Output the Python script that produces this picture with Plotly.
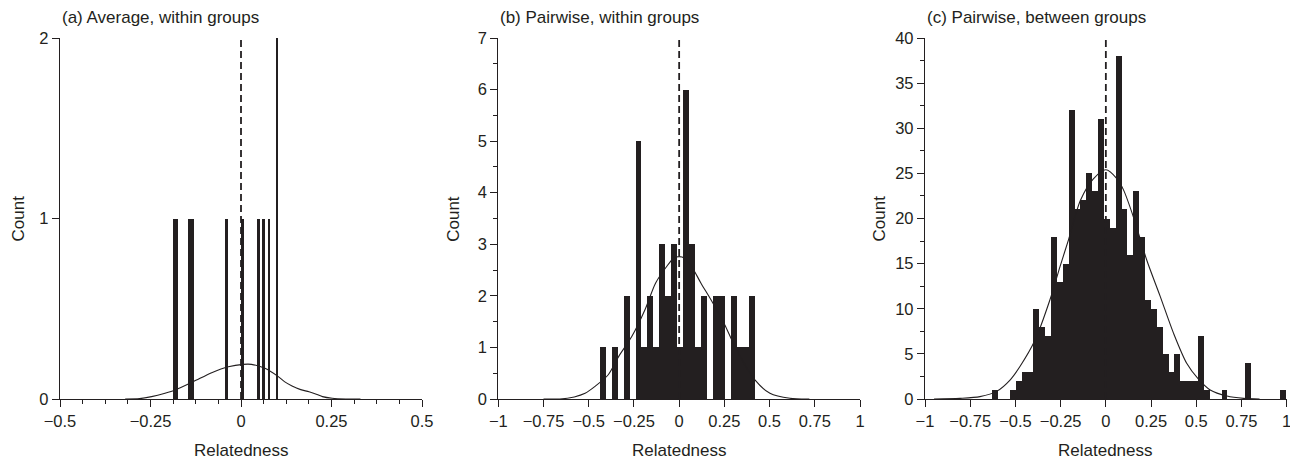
import plotly.graph_objects as go

INK = "#231f20"
FONT = "Liberation Sans, Arial, Helvetica, sans-serif"

# ---------------- data ----------------
titles = ["(a) Average, within groups", "(b) Pairwise, within groups", "(c) Pairwise, between groups"]
x_label = "Relatedness"
y_label = "Count"

# (a) histogram: bins start at a_start, width a_width
a_start = -0.189
a_width = 0.0073
a_counts = [1, 1, 0, 0, 0, 0, 1, 1, 0, 0,
            0, 0, 0, 0, 0, 0, 0, 0, 0, 0,
            1, 0, 0, 0, 0, 0, 1, 0, 0, 0,
            0, 0, 1, 0, 1, 0, 1, 0, 0, 2]
a_curve_x = [-0.32, -0.28, -0.247, -0.21, -0.182, -0.132, -0.081, -0.035, 0.006, 0.029,
             0.066, 0.103, 0.12, 0.141, 0.165, 0.188, 0.21, 0.225, 0.252, 0.29, 0.33]
a_curve_y = [0, 0.002, 0.013, 0.032, 0.05, 0.096, 0.146, 0.179, 0.192, 0.192,
             0.17, 0.124, 0.096, 0.072, 0.052, 0.04, 0.025, 0.013, 0.004, 0.0, 0]

# (b)
b_start = -0.4377
b_width = 0.033
b_counts = [1, 0, 1, 0, 2, 0, 5, 1, 2, 1,
            3, 2, 3, 1, 6, 3, 1, 2, 0, 2,
            2, 0, 2, 1, 1, 2]
b_curve_x = [-0.75, -0.66, -0.58, -0.52, -0.467, -0.392, -0.33, -0.262, -0.189, -0.13,
             -0.069, -0.03, 0.0, 0.03, 0.069, 0.12, 0.18, 0.244, 0.318, 0.419,
             0.502, 0.613, 0.72]
b_curve_y = [0, 0.0, 0.04, 0.11, 0.24, 0.47, 0.85, 1.21, 1.73, 2.25,
             2.57, 2.73, 2.76, 2.73, 2.57, 2.25, 1.9, 1.5, 0.95, 0.37,
             0.11, 0.013, 0]

# (c)
c_start = -0.628
c_width = 0.0325
c_counts = [1, 0, 0, 1, 2, 3, 3, 10, 8, 7,
            18, 13, 15, 32, 21, 22, 25, 23, 31, 20,
            19, 38, 21, 16, 23, 18, 11, 10, 8, 5,
            3, 5, 2, 2, 2, 7, 1, 0, 0, 1,
            0, 0, 0, 4, 0, 0, 0, 0, 0, 1]
c_curve_x = [-0.95, -0.806, -0.696, -0.6, -0.53, -0.475, -0.392, -0.309, -0.253, -0.207,
             -0.141, -0.069, 0.0, 0.062, 0.097, 0.152, 0.226, 0.30, 0.374, 0.447,
             0.512, 0.577, 0.67, 0.762, 0.85]
c_curve_y = [0, 0.07, 0.26, 0.9, 2.1, 3.6, 6.5, 11.0, 14.7, 17.6,
             22.0, 24.4, 25.4, 24.4, 23.2, 20.2, 15.4, 11.4, 7.3, 3.96,
             2.2, 1.0, 0.33, 0.07, 0]

ref_x = 0.0

x_ranges = [[-0.5, 0.5], [-1, 1], [-1, 1]]
y_ranges = [[0, 2], [0, 7], [0, 40]]
x_tickvals = [[-0.5, -0.25, 0, 0.25, 0.5],
              [-1, -0.75, -0.5, -0.25, 0, 0.25, 0.5, 0.75, 1],
              [-1, -0.75, -0.5, -0.25, 0, 0.25, 0.5, 0.75, 1]]
x_ticktext = [["\u22120.5", "\u22120.25", "0", "0.25", "0.5"],
              ["\u22121", "\u22120.75", "\u22120.5", "\u22120.25", "0", "0.25", "0.5", "0.75", "1"],
              ["\u22121", "\u22120.75", "\u22120.5", "\u22120.25", "0", "0.25", "0.5", "0.75", "1"]]
x_minor = [0.0625, None, None]
y_dtick = [1, 1, 5]
y_minor = [None, 0.5, 2.5]

panels = [
    (a_start, a_width, a_counts, a_curve_x, a_curve_y),
    (b_start, b_width, b_counts, b_curve_x, b_curve_y),
    (c_start, c_width, c_counts, c_curve_x, c_curve_y),
]

# ---------------- layout geometry ----------------
# page is shown with an 8px body margin, so the figure is laid out in page pixels minus 8
OFF = 8
PAGE_W, PAGE_H = 1298, 462
W, H = PAGE_W - OFF, PAGE_H - OFF


def fx(p):
    return (p - OFF) / W


def fy(p):
    return 1 - (p - OFF) / H


x_domains = [[fx(60), fx(422)], [fx(498.3), fx(860)], [fx(925), fx(1286.7)]]
y_domain = [fy(399), fy(38)]
count_shift = [-42, -45, -46]

fig = go.Figure()

for i, (start, width, counts, cx, cy) in enumerate(panels):
    xa = "x" if i == 0 else f"x{i+1}"
    ya = "y" if i == 0 else f"y{i+1}"
    centers = [start + (k + 0.5) * width for k in range(len(counts))]
    fig.add_trace(go.Bar(x=centers, y=counts, width=[width] * len(counts),
                         marker=dict(color=INK, line=dict(width=0)),
                         xaxis=xa, yaxis=ya, showlegend=False, hoverinfo="x+y"))
    fig.add_trace(go.Scatter(x=cx, y=cy, mode="lines",
                             line=dict(color=INK, width=1.1, shape="spline", smoothing=0.8),
                             xaxis=xa, yaxis=ya, showlegend=False))
    fig.add_trace(go.Scatter(x=[ref_x, ref_x], y=y_ranges[i], mode="lines",
                             line=dict(color=INK, width=1.8, dash="7px,4px"),
                             xaxis=xa, yaxis=ya, showlegend=False, hoverinfo="skip"))

    xkey = "xaxis" if i == 0 else f"xaxis{i+1}"
    ykey = "yaxis" if i == 0 else f"yaxis{i+1}"
    xax = dict(domain=x_domains[i], range=x_ranges[i], anchor=ya, automargin=False,
               tickmode="array", tickvals=x_tickvals[i], ticktext=x_ticktext[i],
               ticks="outside", ticklen=7, tickwidth=1.2, tickcolor=INK,
               showline=True, linecolor=INK, linewidth=1.3,
               showgrid=False, zeroline=False,
               tickfont=dict(family=FONT, size=16.5, color=INK))
    if x_minor[i]:
        xax["minor"] = dict(tickmode="linear", tick0=x_ranges[i][0], dtick=x_minor[i],
                            ticks="outside", ticklen=4, tickwidth=1.1, tickcolor=INK, showgrid=False)
    yax = dict(domain=y_domain, range=y_ranges[i], anchor=xa, automargin=False,
               tickmode="linear", tick0=0, dtick=y_dtick[i],
               ticks="outside", ticklen=7, tickwidth=1.2, tickcolor=INK,
               showline=True, linecolor=INK, linewidth=1.3,
               showgrid=False, zeroline=False,
               tickfont=dict(family=FONT, size=16.5, color=INK))
    if y_minor[i]:
        yax["minor"] = dict(tickmode="linear", tick0=0, dtick=y_minor[i],
                            ticks="outside", ticklen=4, tickwidth=1.1, tickcolor=INK, showgrid=False)
    fig.layout[xkey] = xax
    fig.layout[ykey] = yax

    # title
    fig.add_annotation(text=titles[i], xref=f"{xa} domain", yref="paper",
                       x=0, y=fy(18), xanchor="left", yanchor="middle", xshift=1,
                       borderpad=0,
                       showarrow=False, font=dict(family=FONT, size=17, color=INK))
    # axis labels
    fig.add_annotation(text=x_label, xref=f"{xa} domain", yref=f"{ya} domain",
                       x=0.5, y=0, yshift=-51, xanchor="center", yanchor="middle",
                       showarrow=False, font=dict(family=FONT, size=17, color=INK))
    fig.add_annotation(text=y_label, xref=f"{xa} domain", yref=f"{ya} domain",
                       x=0, y=0.5, xshift=count_shift[i], textangle=-90,
                       xanchor="center", yanchor="middle", borderpad=0,
                       showarrow=False, font=dict(family=FONT, size=17, color=INK))

fig.update_layout(width=W, height=H, margin=dict(l=0, r=0, t=0, b=0, autoexpand=False),
                  paper_bgcolor="white", plot_bgcolor="white",
                  bargap=0, barmode="overlay", showlegend=False,
                  font=dict(family=FONT, color=INK))

fig.write_html("out.html")
